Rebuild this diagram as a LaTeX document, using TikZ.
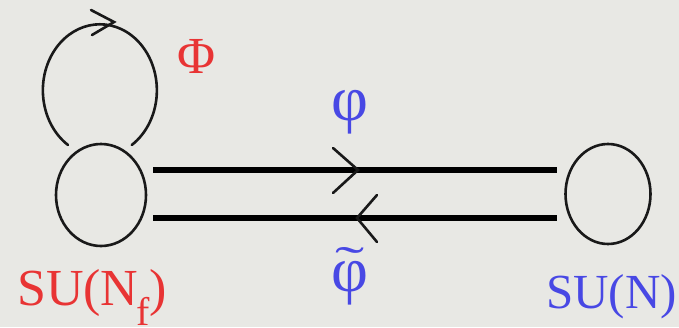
\documentclass[tikz,border=0pt]{standalone}
\usepackage{fontspec}
\setmainfont{Liberation Serif}
\usetikzlibrary{shapes.geometric}
\definecolor{bgc}{RGB}{232,232,228}
\definecolor{redc}{RGB}{232,52,52}
\definecolor{bluec}{RGB}{72,72,228}
\begin{document}
\begin{tikzpicture}[x=1pt,y=-1pt,
  ring/.style={draw=black!90, ellipse, line width=2.6pt, inner sep=0pt},
  bond/.style={line width=6pt, black},
  chev/.style={line width=2.6pt, black!90, line cap=round, line join=miter},
  redlab/.style={text=redc, font=\fontsize{52}{60}\selectfont, inner sep=0pt},
  bluelab/.style={text=bluec, font=\fontsize{49}{60}\selectfont, inner sep=0pt},
  greek/.style={text=bluec, font=\fontsize{64}{70}\selectfont, inner sep=0pt}]
\fill[bgc] (0,0) rectangle (679,327);
\useasboundingbox (0,0) rectangle (679,327);
% gauge nodes
\node[ring, minimum width=90pt, minimum height=102pt] (L) at (101,195) {};
\node[ring, minimum width=85pt, minimum height=100pt] (R) at (608,194) {};
% adjoint loop
\coordinate (loopstart) at (68,145);
\draw[chev] (loopstart) arc[start angle=124, end angle=416, x radius=57, y radius=66];
\coordinate (looptip) at (114,22);
\draw[chev] (91,10) -- (looptip) -- (92,35);
% bifundamental lines
\coordinate (t1) at (153,170);
\coordinate (t2) at (557,170);
\coordinate (b1) at (153,218);
\coordinate (b2) at (557,218);
\draw[bond] (t1) -- (t2);
\draw[bond] (b1) -- (b2);
\coordinate (ct) at (358,170);
\coordinate (cb) at (357,218);
\draw[chev] (333,148) -- (ct) -- (333,193);
\draw[chev] (377,195) -- (cb) -- (377,242);
% labels
\node[redlab, anchor=base west] (Phi) at (177,73) {Φ};
\node[redlab, anchor=base west] (lf) at (17,305) {SU(N\kern-2pt\raisebox{-0.40em}{\fontsize{40}{44}\selectfont f})};
\node[bluelab, anchor=base west] (rf) at (546,308) {SU(N)};
\node[greek] (phi) at (350,112) {φ};
\node[greek, anchor=base] (phit) at (350,291) {\ooalign{φ\cr\hidewidth\raisebox{13pt}{\fontsize{46}{46}\selectfont\scalebox{1.9}[1.0]{˜}}\hidewidth\cr}};
\end{tikzpicture}
\end{document}
